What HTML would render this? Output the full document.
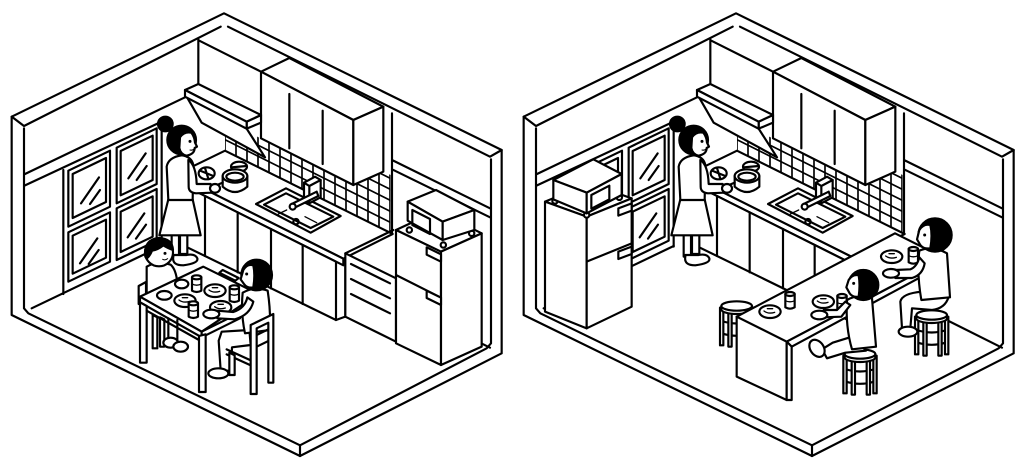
<!DOCTYPE html>
<html><head><meta charset="utf-8"><style>
html,body{margin:0;padding:0;background:#fff;width:1024px;height:470px;overflow:hidden}
svg{display:block}
</style></head><body>
<svg xmlns="http://www.w3.org/2000/svg" width="1024" height="470" viewBox="0 0 1024 470">
<defs>
<clipPath id="tc" clipPathUnits="userSpaceOnUse"><polygon points="675,406 795,472 748,398 1060,555 1150,515 1172,525 1172,700 675,452"/></clipPath>

<g id="stool">
 <path d="M-45,45 Q0,60 45,45 M-45,82 Q0,97 45,82"/>
 <path fill="#fff" d="M-50,5 L-50,118 L-40,118 L-40,8 Z"/>
 <path fill="#fff" d="M-25,10 L-25,122 L-15,122 L-15,12 Z"/>
 <path fill="#fff" d="M20,12 L20,122 L30,122 L30,10 Z"/>
 <path fill="#fff" d="M40,8 L40,118 L50,118 L50,5 Z"/>
 <path fill="#fff" d="M-46,0 L-46,10 A46,14 0 0 0 46,10 L46,0 Z"/>
 <ellipse fill="#fff" cx="0" cy="0" rx="46" ry="14"/>
</g>
<g id="plate">
 <ellipse fill="#fff" cx="0" cy="0" rx="32" ry="19"/>
 <path d="M-18,-2 Q-5,8 14,2 M-8,-9 L8,-9" stroke-width="4"/>
</g>
<g id="cup">
 <path fill="#fff" d="M-14,-20 L-14,20 Q0,28 14,20 L14,-20 Z"/>
 <ellipse fill="#fff" cx="0" cy="-20" rx="14" ry="6"/>
 <path d="M-14,0 Q0,7 14,0" stroke-width="4"/>
</g>

<g id="common">
 <!-- shell -->
 <path d="M35,350 L672,40 L1505,450 L1505,1060 L900,1368 L35,945 Z"/>
 <path d="M35,350 L72,378 L662,80 M684,80 L1470,470 L1505,450 M72,385 L72,925 L85,940 L900,1336 L1460,1045 L1473,1030 L1473,478 M900,1336 L900,1368"/>
 <!-- back-left wall -->
 <path d="M75,522 L555,292 M75,556 L485,365 M95,925 L485,738"/>
 <path d="M190,510 L190,882 M485,368 L485,740"/>
 <polygon fill="#fff" points="205,512 330,452 330,620 205,680"/>
 <polygon points="218,522 318,474 318,606 218,654"/>
 <path d="M243,610 L297,532 M270,612 L300,570"/>
 <polygon fill="#fff" points="350,443 470,385 470,552 350,610"/>
 <polygon points="362,453 458,407 458,540 362,586"/>
 <path d="M385,535 L437,460 M410,540 L440,498"/>
 <polygon fill="#fff" points="205,697 330,637 330,785 205,845"/>
 <polygon points="218,707 318,659 318,773 218,821"/>
 <path d="M240,790 L292,715 M266,792 L296,750"/>
 <polygon fill="#fff" points="350,625 470,567 470,722 350,780"/>
 <polygon points="362,635 458,589 458,710 362,756"/>
 <path d="M383,712 L433,640 M408,716 L438,674"/>
 <!-- back-right wall -->
 <path d="M1176,340 L1176,700 M1176,480 L1470,625 M1176,508 L1470,652 M1244,930 L1470,1043"/>
 <path d="M595,118 L595,255 M598,122 L783,215"/>
 <!-- upper cabinet -->
 <polygon fill="#fff" points="783,215 868,174 1150,320 1060,360"/>
 <polygon fill="#fff" points="783,215 1060,360 1060,555 783,415"/>
 <polygon fill="#fff" points="1060,360 1150,320 1150,515 1060,555"/>
 <path d="M868,282 L868,445 M968,332 L968,492"/>
 <!-- hood -->
 <polygon fill="#fff" points="560,290 740,386 795,472 605,368"/>
 <polygon fill="#fff" points="740,365 783,345 783,368 740,386"/>
 <polygon fill="#fff" points="555,270 595,252 783,345 740,365"/>
 <polygon fill="#fff" points="555,270 740,365 740,386 555,290"/>
 <!-- tiles -->
 <g clip-path="url(#tc)" stroke-width="5">
  <path d="M675,380 L675,720 M708,380 L708,720 M741,380 L741,720 M774,380 L774,720 M807,380 L807,720 M840,380 L840,720 M873,380 L873,720 M906,380 L906,720 M939,380 L939,720 M972,380 L972,720 M1005,380 L1005,720 M1038,380 L1038,720 M1071,380 L1071,720 M1104,380 L1104,720 M1137,380 L1137,720 M1170,380 L1170,720"/>
  <path d="M660,411.5 L1180,671.5 M660,378.5 L1180,638.5 M660,345.5 L1180,605.5 M660,312.5 L1180,572.5 M660,279.5 L1180,539.5 M660,246.5 L1180,506.5 M660,213.5 L1180,473.5 M660,180.5 L1180,440.5"/>
 </g>
 <!-- counter -->
 <polygon fill="#fff" points="527,524 675,452 1178,702 1030,776"/>
 <polygon fill="#fff" points="527,524 1030,776 1030,796 527,544"/>
 <polygon fill="#fff" points="527,544 1008,785 1008,960 527,725"/>
 <path d="M615,588 L615,768 M713,637 L713,817 M813,687 L813,865 M908,735 L908,912 M1036,776 L1036,950 L1008,960"/>
 <!-- pots -->
 <ellipse fill="#fff" cx="717" cy="500" rx="24" ry="15"/>
 <path d="M695,502 L740,498"/>
 <path fill="#fff" d="M668,528 L668,560 Q705,592 742,560 L742,528 Z"/>
 <ellipse fill="#fff" cx="705" cy="528" rx="37" ry="20"/>
 <ellipse cx="705" cy="530" rx="26" ry="12"/>
 <ellipse fill="#fff" cx="620" cy="520" rx="24" ry="18"/>
 <path d="M600,512 L640,528 M615,504 L625,536 M668,548 L640,560"/>
 <!-- sink -->
 <polygon fill="#fff" points="768,612 858,565 1022,648 932,698"/>
 <polygon points="792,614 858,580 1000,650 932,684"/>
 <circle cx="888" cy="665" r="8"/>
 <path d="M835,642 L860,630 M915,650 L950,668" stroke-width="4"/>
 <path fill="#fff" d="M912,548 L945,530 L962,540 L962,592 L928,610 L912,600 Z"/>
 <path d="M912,548 L928,558 L962,540 M928,558 L928,610"/>
 <path fill="#fff" d="M950,575 L875,612 L880,625 L955,588 Z"/>
 <circle fill="#fff" cx="878" cy="620" r="9"/>
 <!-- woman -->
 <rect fill="#fff" x="515" y="700" width="22" height="70"/>
 <rect fill="#fff" x="540" y="700" width="22" height="62"/>
 <path fill="#fff" d="M520,770 Q515,796 550,796 Q596,790 592,775 Q585,760 560,765 L520,765 Z"/>
 <polygon fill="#fff" points="505,598 578,598 602,706 478,706"/>
 <path fill="#fff" d="M505,600 L500,500 Q505,472 545,466 Q575,470 580,495 L578,600 Z"/>
 <path fill="#fff" d="M565,480 Q588,495 590,552 L632,552 L634,578 L588,580 Q566,578 566,560 Z"/>
 <ellipse fill="#fff" cx="645" cy="565" rx="15" ry="13"/>
 <circle fill="#000" cx="496" cy="372" r="22"/>
 <circle fill="#000" cx="545" cy="420" r="43"/>
 <path fill="#fff" d="M540,412 Q552,394 574,398 Q584,412 585,428 L591,440 L584,444 Q584,462 560,467 Q542,464 538,444 Z"/>
 <circle fill="#000" stroke="none" cx="570" cy="424" r="4.5"/>
 <path d="M570,450 Q577,452 582,447" stroke-width="3"/>
</g>
</defs>

<!-- LEFT ROOM -->
<g transform="scale(0.333333)" fill="none" stroke="#000" stroke-width="6.5" stroke-linejoin="round" stroke-linecap="round">
 <use href="#common"/>
 <!-- drawer unit -->
 <polygon fill="#fff" points="1036,760 1188,835 1188,1025 1036,950"/>
 <path d="M1036,760 L1180,690 M1053,792 L1170,850 M1053,837 L1170,895 M1053,882 L1170,940"/>
 <!-- fridge -->
 <polygon fill="#fff" points="1188,690 1310,633 1445,700 1323,755"/>
 <polygon fill="#fff" points="1188,690 1323,755 1323,1095 1188,1030"/>
 <polygon fill="#fff" points="1323,755 1445,700 1445,1040 1323,1095"/>
 <path d="M1188,825 L1323,893"/>
 <polygon fill="#fff" points="1280,742 1323,763 1323,785 1280,764"/>
 <polygon fill="#fff" points="1280,872 1323,893 1323,915 1280,894"/>
 <!-- microwave -->
 <circle fill="#fff" cx="1228" cy="690" r="8"/>
 <circle fill="#fff" cx="1330" cy="735" r="8"/>
 <circle fill="#fff" cx="1415" cy="700" r="8"/>
 <polygon fill="#fff" points="1223,605 1308,570 1423,630 1328,665"/>
 <polygon fill="#fff" points="1223,605 1328,665 1328,720 1223,662"/>
 <polygon fill="#fff" points="1328,665 1423,630 1423,690 1328,720"/>
 <polygon points="1237,630 1290,657 1290,702 1237,675"/>
 <!-- child's chair -->
 <polygon fill="#fff" points="416,858 438,846 438,900 416,912"/>
 <path fill="#fff" d="M458,945 L458,1045 L472,1045 L472,952 Z M480,952 L480,1040 L493,1040 L493,958 Z"/>
 <!-- child -->
 <path fill="#fff" d="M440,800 Q470,782 512,794 Q528,808 532,848 L548,876 L520,895 L470,895 L440,882 Z"/>
 <circle fill="#fff" cx="477" cy="757" r="42"/>
 <path fill="#000" d="M436,770 Q430,718 477,714 Q517,716 519,750 Q502,744 490,736 Q472,750 456,752 Q450,768 440,776 Z"/>
 <circle fill="#000" stroke="none" cx="495" cy="760" r="4.5"/>
 <path d="M488,778 Q496,782 503,776" stroke-width="3"/>
 <!-- table -->
 <polygon fill="#fff" points="420,890 610,800 775,882 605,995"/>
 <polygon fill="#fff" points="420,890 605,995 605,1012 420,907"/>
 <polygon fill="#fff" points="605,995 720,938 720,955 605,1012"/>
 <path fill="#fff" d="M420,907 L420,1088 L440,1088 L440,918 Z"/>
 <path fill="#fff" d="M597,1008 L597,1176 L617,1176 L617,1003 Z"/>
 <path d="M440,932 L597,1020"/>
 <path d="M505,955 L505,1015 M532,960 L532,1022"/>
 <ellipse fill="#fff" cx="512" cy="1028" rx="22" ry="15"/>
 <ellipse fill="#fff" cx="542" cy="1040" rx="22" ry="15"/>
 <ellipse fill="#fff" cx="545" cy="852" rx="20" ry="13"/>
 <ellipse fill="#fff" cx="493" cy="886" rx="22" ry="13"/>
 <use href="#plate" x="645" y="872"/>
 <use href="#plate" x="555" y="902"/>
 <use href="#plate" x="662" y="922"/>
 <use href="#cup" x="590" y="852"/>
 <use href="#cup" x="703" y="882"/>
 <use href="#cup" x="580" y="930"/>
 <polygon fill="#fff" points="658,818 668,810 716,834 706,842"/>
 <!-- man -->
 <path fill="#fff" d="M665,995 L748,990 L752,1035 L696,1042 L693,1112 L662,1112 L656,1022 Z"/>
 <ellipse fill="#fff" cx="655" cy="1120" rx="30" ry="15"/>
 <path fill="#fff" d="M728,878 Q765,858 803,872 Q812,930 810,990 L735,1000 Q722,940 728,878 Z"/>
 <path fill="#fff" d="M742,892 Q735,925 700,936 L652,932 L652,955 L705,958 Q750,945 760,905 Z"/>
 <ellipse fill="#fff" cx="634" cy="942" rx="24" ry="13"/>
 <circle fill="#000" cx="770" cy="825" r="46"/>
 <path fill="#fff" d="M730,810 Q742,790 760,796 Q766,825 760,862 Q742,866 732,852 L722,838 Z"/>
 <circle fill="#000" stroke="none" cx="740" cy="822" r="4.5"/>
 <!-- man's chair -->
 <path d="M770,1005 L805,988 M770,1040 L805,1023 M680,1048 L754,1082 M680,1063 L754,1097"/>
 <path fill="#fff" d="M688,1058 L688,1125 L704,1125 L704,1066 Z"/>
 <path fill="#fff" d="M752,975 L820,942 L820,1148 L805,1148 L805,968 L770,985 L770,1182 L752,1182 Z"/>
</g>

<!-- RIGHT ROOM -->
<g transform="translate(512,0) scale(0.333333)" fill="none" stroke="#000" stroke-width="6.5" stroke-linejoin="round" stroke-linecap="round">
 <use href="#common"/>
 <!-- fridge -->
 <polygon fill="#fff" points="99,605 234,550 359,595 224,650"/>
 <polygon fill="#fff" points="99,605 224,650 224,985 99,935"/>
 <polygon fill="#fff" points="224,650 359,595 359,920 224,985"/>
 <path d="M224,785 L359,730"/>
 <polygon fill="#fff" points="319,625 359,610 359,632 319,647"/>
 <polygon fill="#fff" points="319,755 359,740 359,762 319,777"/>
 <!-- microwave -->
 <circle fill="#fff" cx="129" cy="603" r="8"/>
 <circle fill="#fff" cx="224" cy="645" r="8"/>
 <circle fill="#fff" cx="322" cy="592" r="8"/>
 <polygon fill="#fff" points="124,540 244,478 329,522 224,578"/>
 <polygon fill="#fff" points="124,540 224,578 224,640 124,598"/>
 <polygon fill="#fff" points="224,578 329,522 329,585 224,640"/>
 <polygon points="238,585 292,557 292,598 238,626"/>
 <!-- stool behind -->
 <use href="#stool" x="674" y="918"/>
 <!-- peninsula -->
 <polygon fill="#fff" points="674,950 1149,700 1299,775 824,1025"/>
 <polygon fill="#fff" points="824,1025 1299,775 1299,792 839,1040"/>
 <polygon fill="#fff" points="674,950 824,1025 824,1200 674,1130"/>
 <polygon fill="#fff" points="824,1025 839,1040 839,1200 824,1200"/>
 <use href="#plate" x="774" y="935"/>
 <use href="#plate" x="934" y="905"/>
 <use href="#plate" x="1139" y="770"/>
 <use href="#cup" x="834" y="902"/>
 <use href="#cup" x="990" y="908"/>
 <use href="#cup" x="1204" y="767"/>
 <!-- man -->
 <use href="#stool" x="1259" y="945"/>
 <path fill="#fff" d="M1230,875 L1310,890 Q1300,925 1260,930 L1200,925 L1195,985 L1170,985 L1165,905 Q1170,880 1230,875 Z"/>
 <ellipse fill="#fff" cx="1188" cy="995" rx="28" ry="15"/>
 <path fill="#fff" d="M1222,752 Q1262,735 1305,760 L1314,892 L1228,900 Q1214,820 1222,752 Z"/>
 <path fill="#fff" d="M1238,790 Q1232,825 1200,834 L1150,834 L1150,810 L1195,808 Q1215,800 1222,772 Z"/>
 <ellipse fill="#fff" cx="1137" cy="820" rx="24" ry="13"/>
 <circle fill="#000" cx="1269" cy="705" r="50"/>
 <path fill="#fff" d="M1222,690 Q1235,670 1255,675 Q1262,705 1255,745 Q1235,748 1225,735 L1215,718 Z"/>
 <circle fill="#000" stroke="none" cx="1238" cy="705" r="4.5"/>
 <!-- child -->
 <use href="#stool" x="1044" y="1062"/>
 <path fill="#fff" d="M1020,1010 L962,1028 L930,1048 L945,1075 L1000,1058 L1062,1052 Z"/>
 <ellipse fill="#fff" cx="915" cy="1045" rx="20" ry="28" transform="rotate(-35 915 1045)"/>
 <path fill="#fff" d="M1005,900 Q1040,880 1080,895 L1092,1040 L1020,1048 Q1000,980 1005,900 Z"/>
 <path fill="#fff" d="M1015,915 L988,950 L935,952 L935,930 L975,930 L1000,905 Z"/>
 <ellipse fill="#fff" cx="922" cy="945" rx="24" ry="13"/>
 <circle fill="#000" cx="1054" cy="855" r="45"/>
 <path fill="#fff" d="M1010,840 Q1022,822 1040,826 Q1045,855 1040,890 Q1022,893 1013,880 L1003,862 Z"/>
 <circle fill="#000" stroke="none" cx="1025" cy="850" r="4.5"/>
</g>
</svg>
</body></html>
